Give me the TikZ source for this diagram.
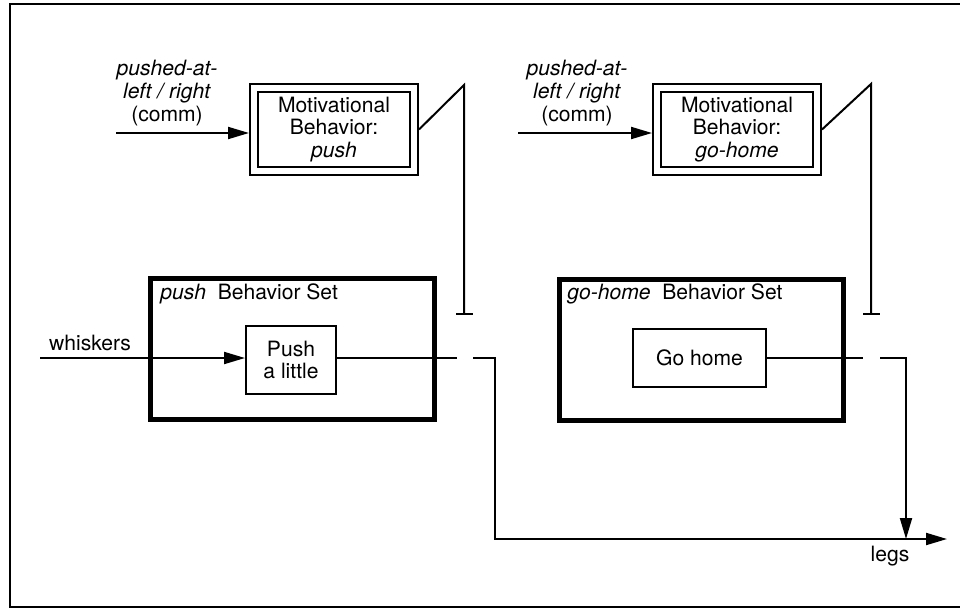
\documentclass[tikz,border=0pt]{standalone}
\usepackage{fontspec}
\setmainfont{TeX Gyre Heros}
\usetikzlibrary{arrows.meta}

\begin{document}
\begin{tikzpicture}[
  x=0.2mm, y=-0.2mm,
  every node/.style={font=\fontsize{12}{13}\selectfont, inner sep=0pt},
  motive/.style={draw, double, line width=0.4mm, double distance=1.2mm, outer sep=1mm,
    minimum width=32mm, minimum height=16.6mm, align=center},
  setbox/.style={draw, line width=1mm, minimum width=56.8mm, minimum height=28.2mm},
  beh/.style={draw, line width=0.4mm, align=center},
  wire/.style={line width=0.4mm},
  sig/.style={wire, -{Triangle[length=4.2mm,width=2.4mm]}},
  inhib/.style={wire, -{Bar[width=3.4mm]}}
]
\useasboundingbox (0,0) rectangle (960,610);
\draw[line width=0.5mm] (960,4) -- (10,4) -- (10,607) -- (960,607);

% motivational behaviors
\node[motive] (mpush) at (334,129.5) {Motivational\\Behavior:\\\textit{push}};
\node[motive] (mhome) at (737,129.5) {Motivational\\Behavior:\\\textit{go-home}};
\node[align=center] (cpush) at (167,93) {\textit{pushed-at-}\\\textit{left / right}\\(comm)};
\node[align=center] (chome) at (577,93) {\textit{pushed-at-}\\\textit{left / right}\\(comm)};
\coordinate (inpush) at (116,133);
\coordinate (inhome) at (518,133);
\draw[sig] (inpush) -- (inpush -| mpush.west);
\draw[sig] (inhome) -- (inhome -| mhome.west);

% behavior sets
\node[setbox] (spush) at (292.5,349) {};
\node[setbox] (shome) at (701,349.5) {};
\node[anchor=base west] (tpush) at (160,299) {\textit{push}\ \ Behavior Set};
\node[anchor=base west] (thome) at (567,299) {\textit{go-home}\ \ Behavior Set};
\node[beh, minimum width=18mm, minimum height=13.6mm] (plittle) at (291,360) {Push\\a little};
\node[beh, minimum width=26.6mm, minimum height=11.6mm] (ghome) at (699.5,358) {Go home};

% sensor input
\coordinate (whin) at (40,358);
\node[anchor=base] (wlbl) at (90,350) {whiskers};
\draw[sig] (whin) -- (whin -| plittle.west);

% outputs through the switches
\coordinate (swpa) at (457,358);
\coordinate (swpb) at (473,358);
\coordinate (swha) at (863,358);
\coordinate (swhb) at (880,358);
\coordinate (jpush) at (495,539);
\coordinate (jhome) at (906,539);
\coordinate (legs) at (947,539);
\node[anchor=base] (llegs) at (890,561) {legs};
\draw[wire] (plittle.east |- swpa) -- (swpa);
\draw[wire] (ghome.east |- swha) -- (swha);
\draw[sig] (swpb) -| (jpush) -- (legs);
\draw[sig] (swhb) -| (jhome);

% activation lines
\coordinate (kpush) at (464,85);
\coordinate (bpush) at (464,315);
\coordinate (khome) at (871,84);
\coordinate (bhome) at (871,315);
\draw[inhib] (mpush.east) -- (kpush) -- (bpush);
\draw[inhib] (mhome.east) -- (khome) -- (bhome);
\end{tikzpicture}
\end{document}
